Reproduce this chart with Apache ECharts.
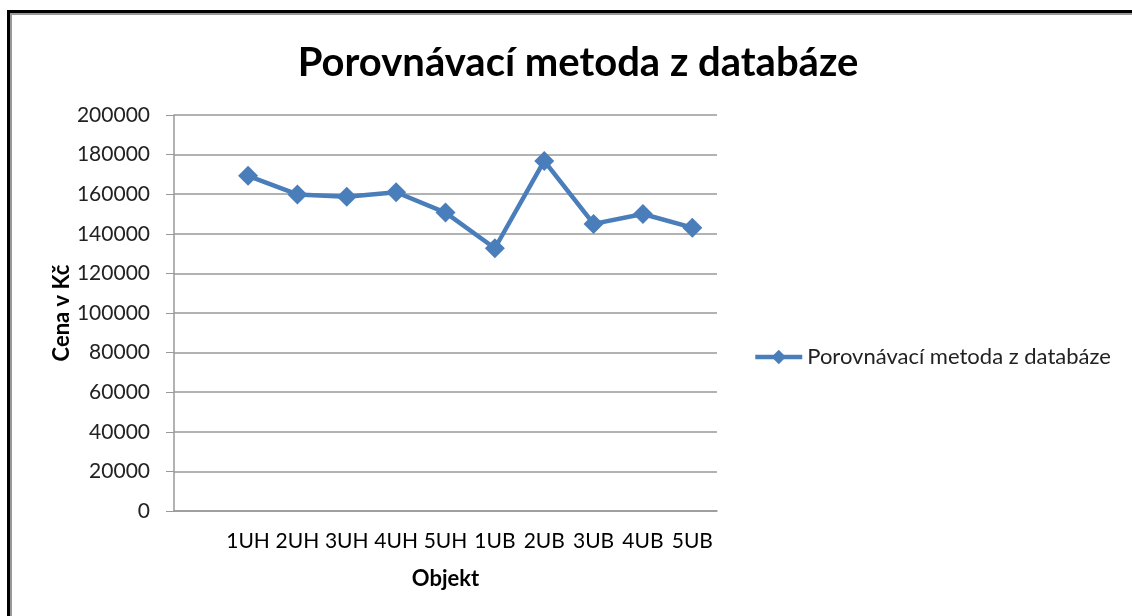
<!DOCTYPE html>
<html>
<head>
<meta charset="utf-8">
<script src="https://cdn.jsdelivr.net/npm/echarts@6/dist/echarts.min.js"></script>
<style>
  html, body { margin: 0; padding: 0; background: #fff; }
  #frame {
    position: absolute;
    left: 7px;
    top: 10px;
    width: 1200px;
    height: 700px;
    border-left: 3px solid #000;
    border-top: 3px solid #000;
    box-shadow: inset 2px 2px 0 #999;
  }
  #chart { position: absolute; left: 0; top: 0; width: 1132px; height: 616px; }
</style>
</head>
<body>
<div id="frame"></div>
<div id="chart"></div>
<script>
// kategorie (první prázdná, jako v původním grafu)
const categories = ['', '1UH', '2UH', '3UH', '4UH', '5UH', '1UB', '2UB', '3UB', '4UB', '5UB']
const values = [null, 169300, 159900, 158700, 161000, 150700, 132700, 176800, 145000, 150000, 143100]
const seriesName = 'Porovnávací metoda z databáze'

const chart = echarts.init(document.getElementById('chart'))
chart.setOption({
  animation: false,
  textStyle: { fontFamily: 'Lato' },
  title: {
    text: 'Porovnávací metoda z databáze',
    left: 573,
    textAlign: 'center',
    top: 38,
    textStyle: { fontSize: 40, fontWeight: 'bold', color: '#000', fontFamily: 'Lato' }
  },
  legend: {
    left: 753,
    top: 346,
    padding: 0,
    itemWidth: 47,
    itemHeight: 18,
    lineStyle: { width: 4.5 },
    textStyle: { fontSize: 22, color: '#222' },
    data: [seriesName]
  },
  grid: {
    left: 174,
    right: 1132 - 717,
    top: 115,
    bottom: 616 - 511
  },
  xAxis: {
    type: 'category',
    data: categories,
    name: 'Objekt',
    nameLocation: 'middle',
    nameGap: 57,
    nameTextStyle: { fontSize: 22, fontWeight: 'bold', color: '#000' },
    axisLine: { lineStyle: { color: '#999', width: 1.5 } },
    axisTick: { show: false },
    axisLabel: { fontSize: 21, color: '#000', margin: 20, interval: 0 }
  },
  yAxis: {
    type: 'value',
    min: 0,
    max: 200000,
    interval: 20000,
    name: 'Cena v Kč',
    nameLocation: 'middle',
    nameGap: 101,
    nameTextStyle: { fontSize: 22, fontWeight: 'bold', color: '#000' },
    axisLine: { show: true, lineStyle: { color: '#999', width: 1.5 } },
    axisTick: { show: true, length: 8, lineStyle: { color: '#999' } },
    axisLabel: { fontSize: 21, color: '#222', margin: 24, formatter: v => String(v) },
    splitLine: { lineStyle: { color: '#999', width: 1.5 } }
  },
  series: [{
    name: seriesName,
    type: 'line',
    data: values,
    symbol: 'diamond',
    symbolSize: 20,
    lineStyle: { color: '#4a7ebb', width: 4.5 },
    itemStyle: { color: '#4a7ebb' }
  }]
})
</script>
</body>
</html>
